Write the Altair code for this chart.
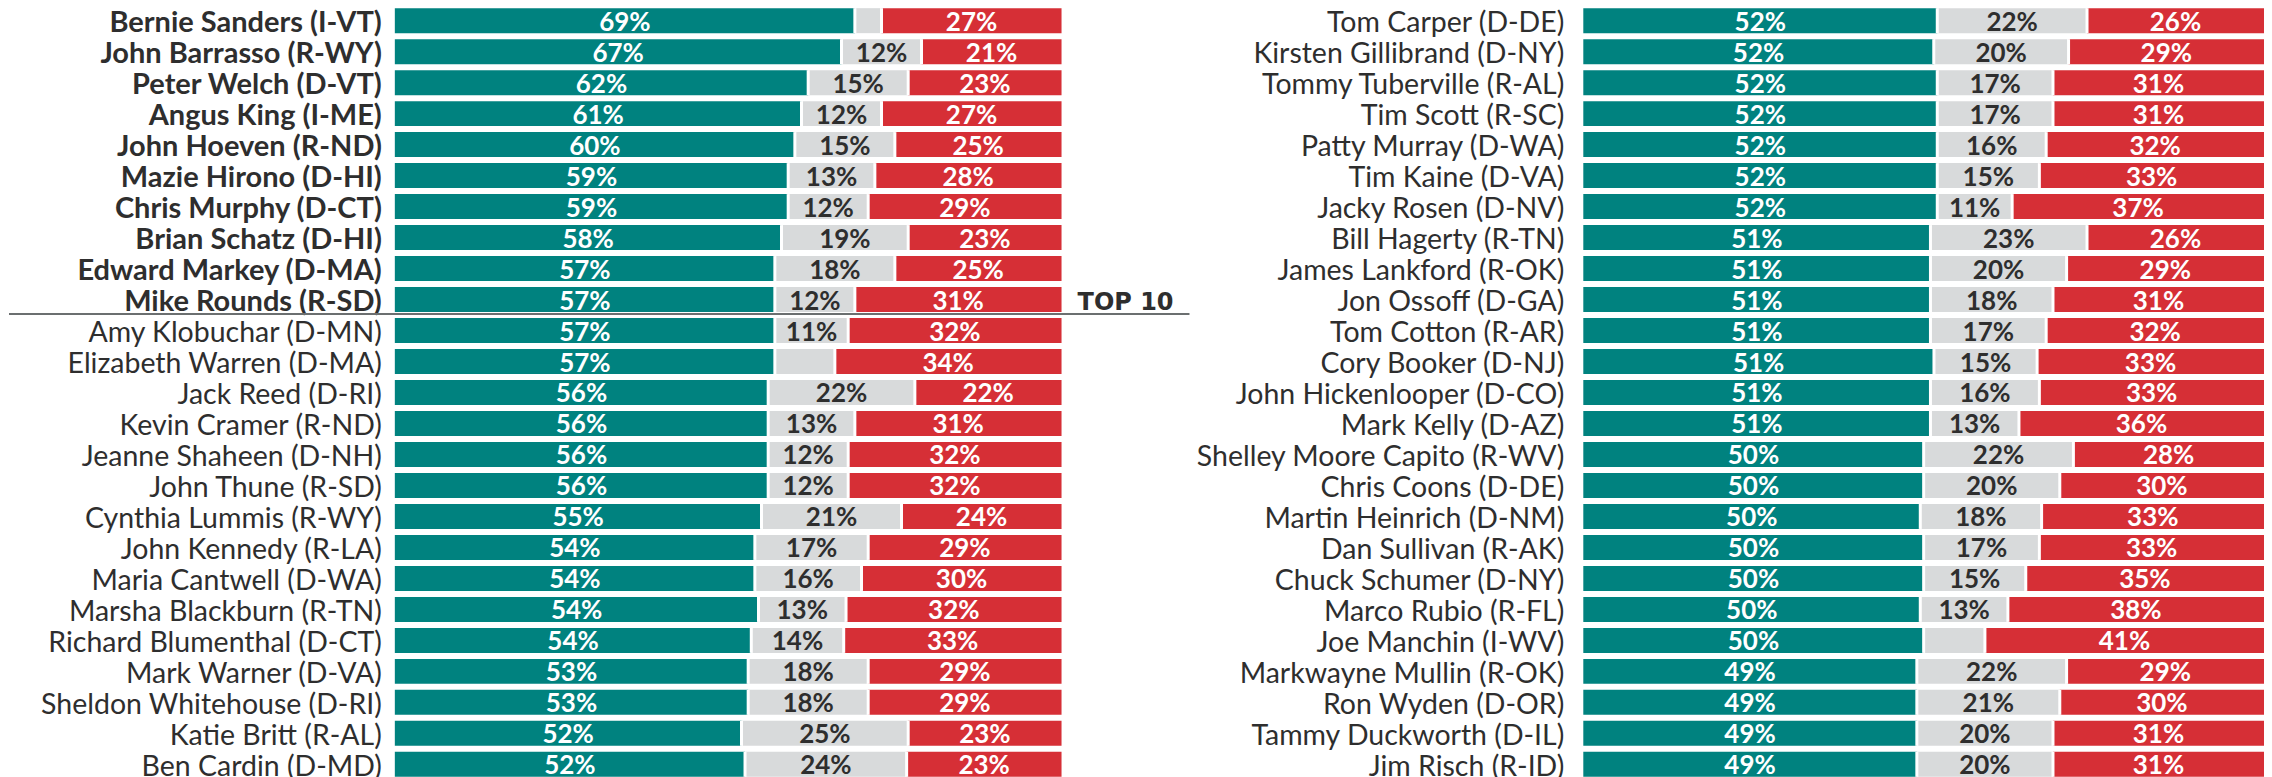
import altair as alt
import pandas as pd

# ---------------- data ----------------
left_names = [
    "Bernie Sanders (I-VT)", "John Barrasso (R-WY)", "Peter Welch (D-VT)", "Angus King (I-ME)",
    "John Hoeven (R-ND)", "Mazie Hirono (D-HI)", "Chris Murphy (D-CT)", "Brian Schatz (D-HI)",
    "Edward Markey (D-MA)", "Mike Rounds (R-SD)", "Amy Klobuchar (D-MN)", "Elizabeth Warren (D-MA)",
    "Jack Reed (D-RI)", "Kevin Cramer (R-ND)", "Jeanne Shaheen (D-NH)", "John Thune (R-SD)",
    "Cynthia Lummis (R-WY)", "John Kennedy (R-LA)", "Maria Cantwell (D-WA)", "Marsha Blackburn (R-TN)",
    "Richard Blumenthal (D-CT)", "Mark Warner (D-VA)", "Sheldon Whitehouse (D-RI)", "Katie Britt (R-AL)",
    "Ben Cardin (D-MD)",
]
left_approve = [69, 67, 62, 61, 60, 59, 59, 58, 57, 57, 57, 57, 56, 56, 56, 56, 55, 54, 54, 54, 54, 53, 53, 52, 52]
left_unsure = [None, 12, 15, 12, 15, 13, 12, 19, 18, 12, 11, None, 22, 13, 12, 12, 21, 17, 16, 13, 14, 18, 18, 25, 24]
left_disapprove = [27, 21, 23, 27, 25, 28, 29, 23, 25, 31, 32, 34, 22, 31, 32, 32, 24, 29, 30, 32, 33, 29, 29, 23, 23]

right_names = [
    "Tom Carper (D-DE)", "Kirsten Gillibrand (D-NY)", "Tommy Tuberville (R-AL)", "Tim Scott (R-SC)",
    "Patty Murray (D-WA)", "Tim Kaine (D-VA)", "Jacky Rosen (D-NV)", "Bill Hagerty (R-TN)",
    "James Lankford (R-OK)", "Jon Ossoff (D-GA)", "Tom Cotton (R-AR)", "Cory Booker (D-NJ)",
    "John Hickenlooper (D-CO)", "Mark Kelly (D-AZ)", "Shelley Moore Capito (R-WV)", "Chris Coons (D-DE)",
    "Martin Heinrich (D-NM)", "Dan Sullivan (R-AK)", "Chuck Schumer (D-NY)", "Marco Rubio (R-FL)",
    "Joe Manchin (I-WV)", "Markwayne Mullin (R-OK)", "Ron Wyden (D-OR)", "Tammy Duckworth (D-IL)",
    "Jim Risch (R-ID)",
]
right_approve = [52, 52, 52, 52, 52, 52, 52, 51, 51, 51, 51, 51, 51, 51, 50, 50, 50, 50, 50, 50, 50, 49, 49, 49, 49]
right_unsure = [22, 20, 17, 17, 16, 15, 11, 23, 20, 18, 17, 15, 16, 13, 22, 20, 18, 17, 15, 13, None, 22, 21, 20, 20]
right_disapprove = [26, 29, 31, 31, 32, 33, 37, 26, 29, 31, 32, 33, 33, 36, 28, 30, 33, 33, 35, 38, 41, 29, 30, 31, 31]

TOP_N = 10
seg_domain = ["approve", "unsure", "disapprove"]
seg_colors = ["#00827F", "#D8DADB", "#D62F36"]


def build_df(names, approve, unsure, disapprove, bold_n):
    rows = []
    for i, (n, a, u, d) in enumerate(zip(names, approve, unsure, disapprove)):
        gray = u if u is not None else 100 - a - d
        bold = i < bold_n
        rows.append(dict(name=n, seg="approve", order=0, value=a, label=f"{a}%", bold=bold))
        rows.append(dict(name=n, seg="unsure", order=1, value=gray,
                         label=(f"{u}%" if u is not None else ""), bold=bold))
        rows.append(dict(name=n, seg="disapprove", order=2, value=d, label=f"{d}%", bold=bold))
    return pd.DataFrame(rows)


def panel(names, df, width, xmax, label_dx, top=False):
    yscale = alt.Scale(domain=names, paddingInner=6 / 31, paddingOuter=0)
    y = alt.Y("name:N", scale=yscale, axis=None)
    xscale = alt.Scale(domain=[0, xmax], nice=False, zero=False)

    base = alt.Chart(df).transform_stack(
        stack="value", groupby=["name"], as_=["x0", "x1"], offset="normalize",
        sort=[alt.SortField(field="order", order="ascending")],
    ).transform_calculate(mid="(datum.x0 + datum.x1) / 2")

    bars = base.mark_bar().encode(
        x=alt.X("x0:Q", scale=xscale, axis=None),
        x2="x1:Q",
        y=y,
        color=alt.Color("seg:N", scale=alt.Scale(domain=seg_domain, range=seg_colors), legend=None),
    )
    gaps = base.transform_filter("datum.order < 2").mark_tick(
        orient="vertical", thickness=3, size=25, color="white", opacity=1
    ).encode(x=alt.X("x1:Q", scale=xscale, axis=None), y=y)

    values = base.mark_text(
        font="Lato", fontWeight="bold", fontSize=26, baseline="alphabetic", dy=10
    ).encode(
        x=alt.X("mid:Q", scale=xscale, axis=None),
        y=y,
        text="label:N",
        color=alt.condition("datum.order == 1", alt.value("#2e2e2e"), alt.value("#ffffff")),
    )

    name_base = alt.Chart(df).transform_filter("datum.order == 0")
    names_normal = name_base.transform_filter("!datum.bold").mark_text(
        font="Lato", fontSize=28.5, align="right", baseline="alphabetic", dx=label_dx, dy=11.5,
        color="#2e2e2e"
    ).encode(x=alt.datum(0), y=y, text="name:N")
    layers = [bars, gaps, values, names_normal]

    if top:
        names_bold = name_base.transform_filter("datum.bold").mark_text(
            font="Lato", fontSize=29, fontWeight="bold", align="right", baseline="alphabetic",
            dx=label_dx, dy=11.5, color="#2e2e2e"
        ).encode(x=alt.datum(0), y=y, text="name:N")
        marker = pd.DataFrame({"name": [names[TOP_N - 1]], "tag": ["TOP 10"]})
        rule = alt.Chart(marker).mark_rule(color="#6b6f70", strokeWidth=2, yOffset=14.5).encode(
            y=y, x=alt.datum(-0.5787), x2=alt.datum(xmax)
        )
        tag = alt.Chart(marker).mark_text(
            font="DejaVu Sans", fontWeight="bold", fontSize=24, align="left",
            baseline="alphabetic", dy=10.5, color="#2e2e2e"
        ).encode(y=y, x=alt.datum(1.024), text="tag:N")
        layers += [names_bold, rule, tag]

    return alt.layer(*layers).properties(width=width, height=769)


left_df = build_df(left_names, left_approve, left_unsure, left_disapprove, TOP_N)
right_df = build_df(right_names, right_approve, right_unsure, right_disapprove, 0)

left = panel(left_names, left_df, 795, 795 / 667, -13, top=True)
right = panel(right_names, right_df, 681, 1.0, -19)

chart = alt.hconcat(left, right, spacing=394, bounds="flush").properties(
    padding={"left": 0, "top": 0, "right": 0, "bottom": 0}
).configure_view(stroke=None)

chart.save("out.html", embed_options={"renderer": "svg", "actions": False})
